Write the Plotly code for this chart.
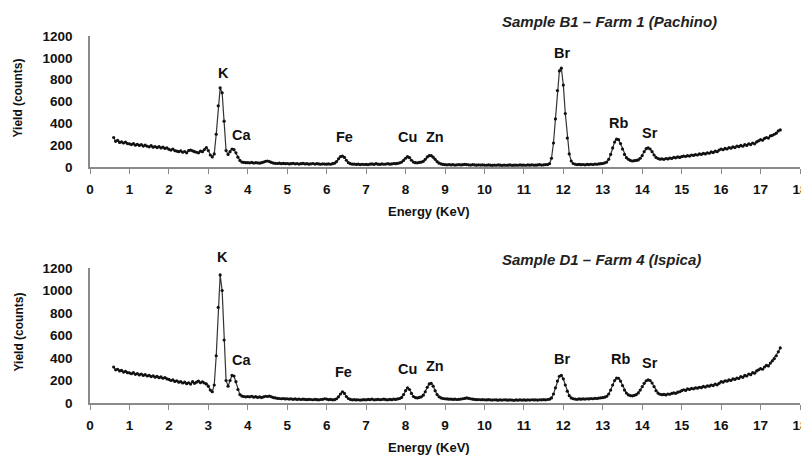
import numpy as np
import plotly.graph_objects as go

# Energy grid (keV), 0.05 keV channels from 0.60 to 17.50
energy = np.round(np.arange(0.60, 17.5001, 0.05), 2)

# Sample B1 – Farm 1 (Pachino) yields, per 1 keV block
b1_yield = [
    270, 235, 245, 225, 230, 220, 228, 215,
    212, 205, 215, 200, 208, 198, 205, 192, 200, 190, 185, 195, 182, 188, 178, 186, 175, 182, 170, 176,
    162, 155, 165, 150, 145, 140, 148, 135, 142, 130, 150, 155, 148, 140, 135, 130, 145, 140, 160, 178,
    150, 110, 92, 120, 300, 560, 725, 680, 420, 150, 115, 140, 165, 160, 130, 90, 60, 45, 42, 40,
    40, 38, 42, 36, 40, 38, 35, 40, 45, 52, 55, 50, 42, 36, 34, 32, 35, 30, 33, 30,
    32, 28, 30, 34, 29, 31, 27, 30, 33, 28, 30, 26, 29, 32, 27, 30, 28, 25, 29, 27,
    26, 28, 25, 30, 35, 50, 75, 95, 100, 88, 62, 40, 30, 26, 27, 24, 26, 22, 25, 23,
    24, 22, 26, 28, 24, 30, 26, 24, 28, 25, 27, 30, 26, 28, 32, 30, 34, 38, 45, 60,
    80, 95, 85, 62, 45, 40, 38, 42, 45, 52, 70, 92, 104, 105, 90, 70, 50, 35, 28, 24,
    22, 20, 22, 19, 21, 18, 20, 22, 19, 21, 24, 22, 20, 18, 21, 19, 17, 20, 18, 19,
    18, 16, 19, 17, 15, 18, 16, 19, 17, 15, 18, 16, 17, 19, 15, 17, 18, 16, 19, 17,
    18, 16, 19, 17, 20, 18, 17, 19, 21, 18, 20, 22, 22, 30, 80, 220, 440, 700, 880, 905,
    750, 490, 265, 120, 55, 32, 25, 22, 24, 21, 23, 20, 24, 22, 25, 23, 27, 25, 28, 30,
    32, 38, 45, 70, 115, 175, 228, 255, 250, 215, 165, 115, 85, 70, 60, 55, 58, 60, 65, 80,
    105, 140, 168, 175, 165, 140, 110, 88, 78, 72, 75, 70, 78, 74, 82, 78, 88, 84, 92, 88,
    95, 100, 96, 104, 100, 110, 106, 114, 110, 120, 115, 125, 120, 130, 126, 138, 132, 145, 140, 155,
    165, 158, 170, 165, 178, 172, 185, 178, 192, 186, 198, 190, 205, 198, 212, 205, 220, 212, 230, 240,
    250, 245, 262, 270, 265, 285, 290, 300, 310, 330, 340,
]

# Sample D1 – Farm 4 (Ispica) yields, per 1 keV block
d1_yield = [
    320, 295, 300, 285, 290, 275, 282, 270,
    268, 260, 270, 255, 262, 250, 258, 245, 252, 240, 246, 235, 242, 230, 236, 225, 232, 220, 226, 215,
    210, 200, 205, 192, 198, 185, 190, 178, 185, 172, 180, 168, 190, 175, 185, 195, 180, 188, 178, 170,
    150, 115, 100, 160, 420, 850, 1138, 1000, 560, 200, 150, 200, 245, 240, 190, 120, 75, 62, 58, 55,
    58, 55, 60, 52, 56, 50, 54, 48, 55, 60, 58, 62, 55, 48, 45, 42, 40, 38, 40, 36,
    38, 35, 37, 33, 36, 32, 35, 31, 34, 32, 30, 33, 31, 29, 32, 30, 28, 31, 33, 38,
    35, 30, 32, 28, 30, 38, 55, 80, 100, 85, 58, 40, 32, 28, 30, 27, 29, 26, 28, 30,
    28, 32, 30, 35, 28, 30, 33, 29, 31, 34, 30, 28, 32, 30, 34, 32, 36, 40, 50, 75,
    110, 135, 120, 85, 58, 48, 45, 50, 55, 70, 100, 140, 170, 175, 150, 110, 75, 55, 45, 40,
    38, 36, 34, 35, 32, 34, 31, 33, 35, 38, 42, 45, 42, 38, 34, 32, 30, 31, 29, 30,
    29, 27, 30, 28, 26, 29, 27, 25, 28, 26, 29, 27, 25, 28, 26, 24, 27, 25, 28, 26,
    27, 25, 28, 26, 29, 27, 28, 26, 29, 28, 30, 28, 31, 34, 45, 80, 135, 195, 238, 245,
    215, 160, 105, 65, 45, 38, 35, 33, 36, 34, 37, 35, 38, 36, 40, 38, 42, 40, 44, 46,
    48, 52, 60, 80, 115, 160, 200, 222, 220, 195, 155, 115, 88, 72, 66, 64, 68, 75, 90, 115,
    145, 175, 198, 205, 200, 178, 145, 110, 88, 78, 74, 76, 72, 80, 78, 85, 90, 86, 96, 100,
    110, 118, 112, 125, 120, 130, 126, 135, 132, 140, 136, 148, 142, 152, 150, 160, 155, 168, 162, 175,
    190, 185, 198, 194, 205, 200, 215, 210, 222, 218, 235, 228, 245, 240, 258, 252, 270, 265, 285, 295,
    305, 300, 320, 335, 330, 355, 375, 395, 420, 455, 490,
]

# Peak labels
peak_names = ["K", "Ca", "Fe", "Cu", "Zn", "Br", "Rb", "Sr"]
b1_label_x = [3.38, 3.83, 6.45, 8.04, 8.75, 11.97, 13.39, 14.2]
b1_label_y = [861, 293, 275, 275, 275, 1044, 403, 311]
d1_label_x = [3.37, 3.83, 6.42, 8.04, 8.75, 11.97, 13.44, 14.2]
d1_label_y = [1298, 382, 276, 302, 329, 391, 391, 356]

titles = ["Sample B1 – Farm 1 (Pachino)", "Sample D1 – Farm 4 (Ispica)"]
x_ticks = list(range(0, 19))
y_ticks = [0, 200, 400, 600, 800, 1000, 1200]
Y_MAX = 1200

W, H = 809, 456
OFF = 8  # page body margin offset in the browser
x0p, x1p = 90 - OFF, 800 - OFF
panels = [(36 - OFF, 167 - OFF), (268 - OFF, 403 - OFF)]
title_pos = [(609 - OFF, 21 - OFF), (601 - OFF, 259 - OFF)]
xtitle_y = [211 - OFF, 447 - OFF]
xtitle_x = 429 - OFF
ytitle_x = 18 - OFF

fig = go.Figure()
FONT = "Liberation Sans, Arial, sans-serif"
AX = "#8a8a8a"

for i, (yy, lx, ly, (ptop, pbot)) in enumerate([
        (b1_yield, b1_label_x, b1_label_y, panels[0]),
        (d1_yield, d1_label_x, d1_label_y, panels[1])]):
    n = "" if i == 0 else "2"
    fig.add_trace(go.Scatter(
        x=energy, y=yy, xaxis="x" + n, yaxis="y" + n,
        mode="lines+markers",
        line=dict(color="#333333", width=1.2),
        marker=dict(color="#111111", size=3.2),
        showlegend=False, hoverinfo="skip", cliponaxis=False))
    dom_y = [1 - pbot / H, 1 - ptop / H]
    fig.update_layout(**{
        "xaxis" + n: dict(domain=[x0p / W, x1p / W], range=[0, 18], anchor="y" + n,
                          tickvals=x_ticks, ticks="outside", ticklen=5, tickcolor=AX,
                          tickwidth=1, showline=True, linecolor=AX, linewidth=1.5,
                          showgrid=False, zeroline=False, ticklabelstandoff=4,
                          automargin=False,
                          tickfont=dict(family=FONT, size=13.5, color="#111", weight="bold")),
        "yaxis" + n: dict(domain=dom_y, range=[0, Y_MAX], anchor="x" + n,
                          tickvals=y_ticks, ticks="", showline=True, linecolor=AX,
                          linewidth=1.5, showgrid=False, zeroline=False,
                          ticklabelstandoff=13, automargin=False,
                          tickfont=dict(family=FONT, size=13.5, color="#111", weight="bold")),
    })
    for name, xv, yv in zip(peak_names, lx, ly):
        fig.add_annotation(x=xv, y=yv / Y_MAX, xref="x" + n, yref="y" + n + " domain",
                           text="<b>" + name + "</b>", showarrow=False,
                           xanchor="center", yanchor="middle",
                           font=dict(family=FONT, size=14.5, color="#111"))
    # panel title
    fig.add_annotation(x=title_pos[i][0] / W, y=1 - title_pos[i][1] / H,
                       xref="paper", yref="paper", text="<b><i>" + titles[i] + "</i></b>",
                       showarrow=False, xanchor="center", yanchor="middle",
                       font=dict(family=FONT, size=15, color="#222"))
    # y axis title
    fig.add_annotation(x=ytitle_x / W, y=1 - ((ptop + pbot) / 2 - 3) / H, xref="paper",
                       yref="paper", text="<b>Yield (counts)</b>", textangle=-90,
                       showarrow=False, xanchor="center", yanchor="middle",
                       font=dict(family=FONT, size=12, color="#111"))
    # x axis title
    fig.add_annotation(x=xtitle_x / W, y=1 - xtitle_y[i] / H, xref="paper", yref="paper",
                       text="<b>Energy (KeV)</b>", showarrow=False,
                       xanchor="center", yanchor="middle",
                       font=dict(family=FONT, size=13, color="#111"))

fig.update_layout(width=W, height=H, margin=dict(l=0, r=0, t=0, b=0),
                  paper_bgcolor="white", plot_bgcolor="white")
fig.write_html("out.html")
